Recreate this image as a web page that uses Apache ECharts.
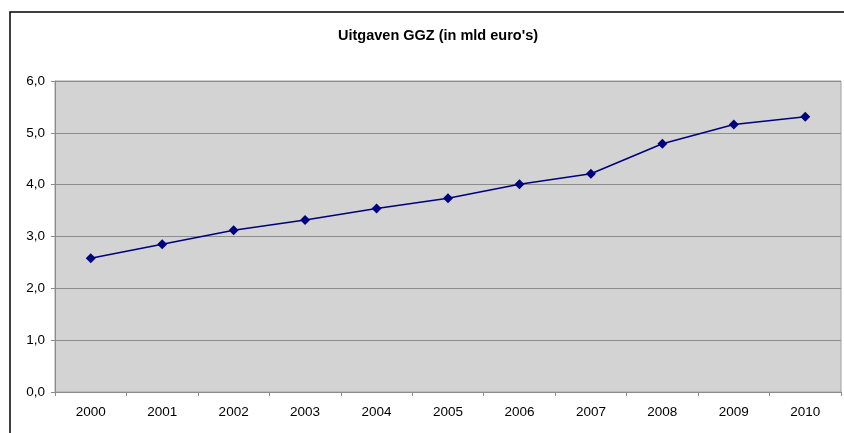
<!DOCTYPE html>
<html>
<head>
<meta charset="utf-8">
<script src="https://cdn.jsdelivr.net/npm/echarts@6/dist/echarts.min.js"></script>
<style>
  html, body { margin: 0; padding: 0; background: #fff; }
  #chart { width: 844px; height: 433px; }
</style>
</head>
<body>
<div id="chart"></div>
<script>
const years = ['2000', '2001', '2002', '2003', '2004', '2005', '2006', '2007', '2008', '2009', '2010'];
const uitgaven = [2.58, 2.85, 3.12, 3.32, 3.54, 3.74, 4.01, 4.21, 4.79, 5.16, 5.31];
const yTicks = [0, 1, 2, 3, 4, 5, 6];

const chart = echarts.init(document.getElementById('chart'));

const option = {
  animation: false,
  title: {
    text: "Uitgaven GGZ (in mld euro's)",
    left: 333,
    top: 23,
    textStyle: {
      fontFamily: 'Liberation Sans, Arial, sans-serif',
      fontSize: 14.5,
      fontWeight: 'bold',
      color: '#000'
    }
  },
  graphic: [
    {
      // outer chart frame, cut off at right and bottom
      type: 'rect',
      shape: { x: 10, y: 12, width: 900, height: 500 },
      style: { fill: 'none', stroke: '#000', lineWidth: 1.5 },
      z: 0
    }
  ],
  grid: {
    left: 55,
    right: 3,
    top: 81,
    bottom: 41,
    show: true,
    backgroundColor: '#d3d3d3',
    borderColor: '#a0a0a0',
    borderWidth: 1
  },
  xAxis: {
    type: 'category',
    data: years,
    boundaryGap: true,
    axisLine: { lineStyle: { color: '#8c8c8c', width: 1 } },
    axisTick: { show: true, length: 4, lineStyle: { color: '#8c8c8c' } },
    axisLabel: {
      margin: 13,
      fontFamily: 'Liberation Sans, Arial, sans-serif',
      fontSize: 13.5,
      color: '#000'
    },
    splitLine: { show: false }
  },
  yAxis: {
    type: 'value',
    min: yTicks[0],
    max: yTicks[yTicks.length - 1],
    interval: 1,
    axisLine: { show: true, lineStyle: { color: '#8c8c8c', width: 1 } },
    axisTick: { show: true, length: 4, lineStyle: { color: '#8c8c8c' } },
    axisLabel: {
      margin: 10,
      fontFamily: 'Liberation Sans, Arial, sans-serif',
      fontSize: 13.5,
      color: '#000',
      formatter: v => v.toFixed(1).replace('.', ',')
    },
    splitLine: { show: true, lineStyle: { color: '#8c8c8c', width: 1 } }
  },
  series: [
    {
      name: 'Uitgaven GGZ',
      type: 'line',
      data: uitgaven,
      symbol: 'diamond',
      symbolSize: 10,
      showAllSymbol: true,
      lineStyle: { color: '#000080', width: 1.5 },
      itemStyle: { color: '#000080' }
    }
  ]
};

chart.setOption(option);
</script>
</body>
</html>
